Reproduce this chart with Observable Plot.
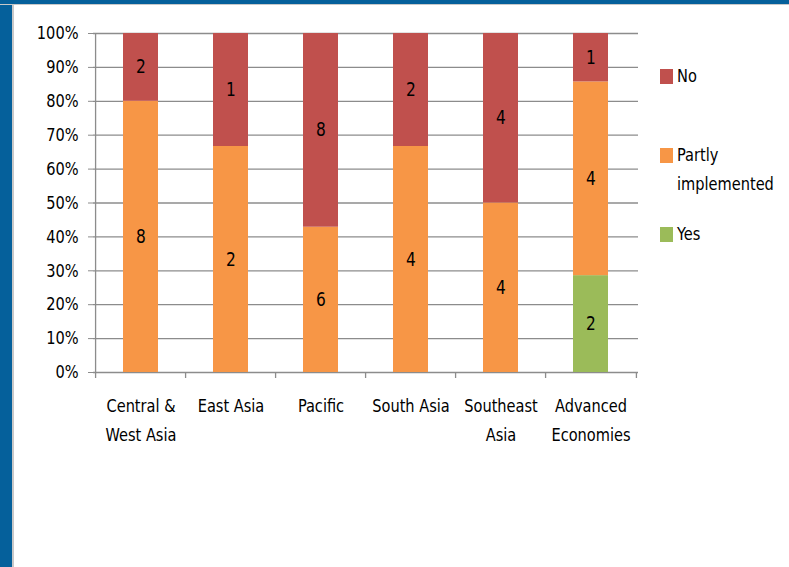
<!DOCTYPE html>
<html>
<head>
<meta charset="utf-8">
<script src="https://cdn.jsdelivr.net/npm/d3@7"></script>
<script src="https://cdn.jsdelivr.net/npm/@observablehq/plot@0.6"></script>
<style>
  html, body { margin: 0; padding: 0; background: #fff; }
  #wrap { position: relative; width: 789px; height: 567px; overflow: hidden; background: #fff;
          font-family: "Liberation Sans Narrow", "DejaVu Sans Condensed", "Arial Narrow", sans-serif; }
  #chart { position: absolute; left: 0; top: 0; }
  .bl { position: absolute; left: 0; top: 0; width: 12px; height: 567px; background: #05609b; border-right: 2px solid #c8c8c8; }
  .bt { position: absolute; left: 0; top: 0; width: 789px; height: 4px; background: #05609b; border-bottom: 1px solid #c8c8c8; }
  #legend { position: absolute; left: 660px; top: 66px; font-size: 18px; color: #000; }
  .item { display: flex; align-items: flex-start; height: 79px; }
  .sw { width: 13px; height: 15px; margin-top: 3px; margin-right: 4px; flex: none; }
  .lab { width: 120px; line-height: 29px; margin-top: -5px; transform: scaleX(0.9); transform-origin: left center; }
  .lab span { display: block; }
</style>
</head>
<body>
<div id="wrap">
  <div id="chart"></div>
  <div class="bl"></div>
  <div class="bt"></div>
  <div id="legend"></div>
</div>
<script>
const categories = ["Central &\nWest Asia", "East Asia", "Pacific", "South Asia", "Southeast\nAsia", "Advanced\nEconomies"];
const statuses = ["Yes", "Partly implemented", "No"];
const legendLabels = [["Yes"], ["Partly", "implemented"], ["No"]];
const yesValues = [0, 0, 0, 0, 0, 2];
const partlyValues = [8, 2, 6, 4, 4, 4];
const noValues = [2, 1, 8, 2, 4, 1];
const colors = ["#9BBB59", "#F79646", "#C0504D"];
const yTicks = [0, 0.1, 0.2, 0.3, 0.4, 0.5, 0.6, 0.7, 0.8, 0.9, 1];
const yTickLabels = ["0%", "10%", "20%", "30%", "40%", "50%", "60%", "70%", "80%", "90%", "100%"];

const series = [yesValues, partlyValues, noValues];
const rows = [];
categories.forEach((c, i) => {
  statuses.forEach((s, j) => {
    const v = series[j][i];
    if (v > 0) rows.push({cat: c, status: s, value: v});
  });
});

const W = 789, H = 567, mL = 93, mR = 151, mT = 33, mB = 195;
const step = (W - mL - mR) / categories.length;
const grid = "#8c8c8c";
const font = '"Liberation Sans Narrow", "DejaVu Sans Condensed", "Arial Narrow", sans-serif';

const chart = Plot.plot({
  width: W, height: H,
  marginLeft: mL, marginRight: mR, marginTop: mT, marginBottom: mB,
  style: {fontFamily: font, fontSize: "18px", color: "#000", background: "transparent", overflow: "visible"},
  x: {domain: categories, paddingInner: 0.615, paddingOuter: 0.3075, label: null},
  y: {domain: [0, 1], label: null},
  color: {domain: statuses, range: colors},
  marks: [
    Plot.ruleY(yTicks, {stroke: grid, strokeWidth: 1.3}),
    Plot.barY(rows, Plot.stackY({x: "cat", y: "value", fill: "status", offset: "normalize"})),
    Plot.text(rows, Plot.stackY({x: "cat", y: "value", z: "status", text: "value", offset: "normalize", fontSize: 19, fill: "#000"})),
    Plot.axisY({ticks: yTicks, tickFormat: d => yTickLabels[yTicks.indexOf(d)], tickSize: 5, tickPadding: 10, stroke: grid, fill: "#000", fontSize: 18, label: null}),
    Plot.axisX({tickSize: 0, tickPadding: 19, lineHeight: 1.6, fontSize: 18, fill: "#000", label: null}),
    Plot.ruleX(categories, {x: d => d, dx: -step / 2, y1: 0, y2: 0, insetBottom: -6, stroke: grid, strokeWidth: 1.3}),
    Plot.ruleX(categories.slice(-1), {x: d => d, dx: step / 2, y1: 0, y2: 0, insetBottom: -6, stroke: grid, strokeWidth: 1.3}),
    Plot.ruleX(categories.slice(0, 1), {x: d => d, dx: -step / 2, y1: 0, y2: 1, stroke: grid, strokeWidth: 1.3})
  ]
});
// narrow the glyphs horizontally, about each text's own anchor point
chart.querySelectorAll("text").forEach(t => {
  const tr = t.getAttribute("transform");
  if (tr) t.setAttribute("transform", tr + " scale(0.9,1)");
});
document.getElementById("chart").appendChild(chart);

const legend = document.getElementById("legend");
[2, 1, 0].forEach(k => {
  const item = document.createElement("div");
  item.className = "item";
  const sw = document.createElement("div");
  sw.className = "sw";
  sw.style.background = colors[k];
  const lab = document.createElement("div");
  lab.className = "lab";
  legendLabels[k].forEach(t => {
    const sp = document.createElement("span");
    sp.textContent = t;
    lab.appendChild(sp);
  });
  item.appendChild(sw);
  item.appendChild(lab);
  legend.appendChild(item);
});
</script>
</body>
</html>
